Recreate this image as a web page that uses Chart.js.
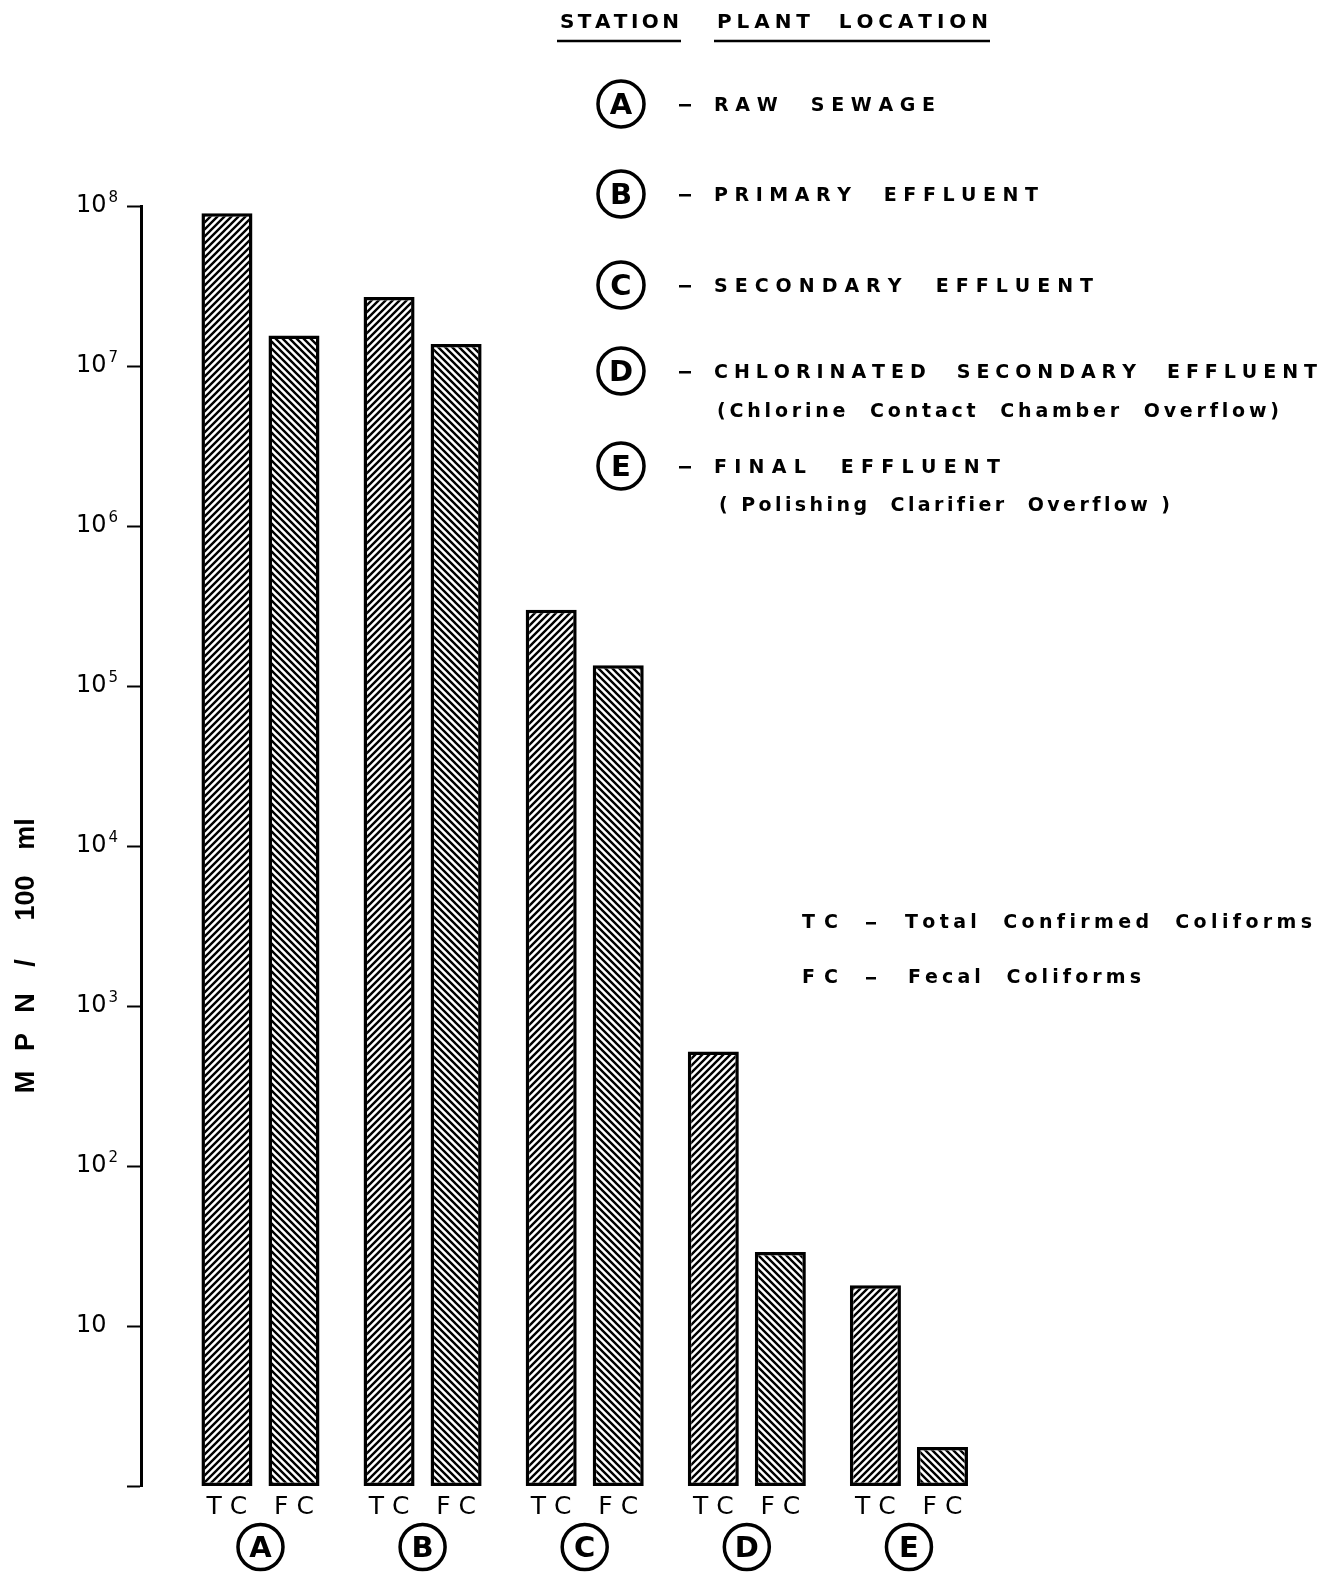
<!DOCTYPE html>
<html>
<head>
<meta charset="utf-8">
<script src="https://cdn.jsdelivr.net/npm/chart.js@4.4.1/dist/chart.umd.min.js"></script>
<style>
  html, body { margin: 0; padding: 0; background: #fff; }
  canvas { display: block; }
</style>
</head>
<body>
<canvas id="mpnChart" width="1329" height="1575"></canvas>
<script>
// station codes and coliform counts (MPN / 100 ml)
const stations = ["A", "B", "C", "D", "E"];
const totalColiforms = [9.0e7, 2.7e7, 3.0e5, 520, 18];
const fecalColiforms = [1.55e7, 1.37e7, 1.35e5, 29, 1.75];
const seriesCodes = ["T C", "F C"];

const tickValues = [1, 10, 1e2, 1e3, 1e4, 1e5, 1e6, 1e7, 1e8];
const tickBases = ["", "10", "10", "10", "10", "10", "10", "10", "10"];
const tickExponents = ["", "", "2", "3", "4", "5", "6", "7", "8"];

const stationNames = [
    "RAW  SEWAGE",
    "PRIMARY  EFFLUENT",
    "SECONDARY  EFFLUENT",
    "CHLORINATED  SECONDARY  EFFLUENT",
    "FINAL  EFFLUENT"
];
const stationNotes = ["", "", "", "(Chlorine  Contact  Chamber  Overflow)", "( Polishing  Clarifier  Overflow )"];
const codeNames = ["Total  Confirmed  Coliforms", "Fecal  Coliforms"];
const axisTitle = ["M", "P", "N", "/", "100", "ml"];

const FONT = "'DejaVu Sans', sans-serif";

// hatch fills: "/" for TC, "\" for FC
function hatch(forward) {
    const s = 7;
    const tile = document.createElement("canvas");
    tile.width = s; tile.height = s;
    const t = tile.getContext("2d");
    t.fillStyle = "#fff";
    t.fillRect(0, 0, s, s);
    t.strokeStyle = "#000";
    t.lineWidth = 2.4;
    t.beginPath();
    if (forward) {
        t.moveTo(-1, s + 1); t.lineTo(s + 1, -1);
        t.moveTo(-1, 1); t.lineTo(1, -1);
        t.moveTo(s - 1, s + 1); t.lineTo(s + 1, s - 1);
    } else {
        t.moveTo(-1, -1); t.lineTo(s + 1, s + 1);
        t.moveTo(s - 1, -1); t.lineTo(s + 1, 1);
        t.moveTo(-1, s - 1); t.lineTo(1, s + 1);
    }
    t.stroke();
    return t.createPattern(tile, "repeat");
}

// draws text spread evenly between x0 and x1
function spread(ctx, text, x0, x1, y) {
    const chars = [...text];
    const widths = chars.map(c => ctx.measureText(c).width);
    const total = widths.reduce((a, b) => a + b, 0);
    const gap = chars.length > 1 ? (x1 - x0 - total) / (chars.length - 1) : 0;
    let x = x0;
    ctx.textAlign = "left";
    chars.forEach((c, i) => {
        ctx.fillText(c, x, y);
        x += widths[i] + gap;
    });
}

function circled(ctx, letter, x, y, r, size) {
    ctx.beginPath();
    ctx.lineWidth = 3.5;
    ctx.arc(x, y, r, 0, Math.PI * 2);
    ctx.stroke();
    ctx.font = "bold " + size + "px " + FONT;
    ctx.textAlign = "center";
    ctx.textBaseline = "middle";
    ctx.fillText(letter, x, y + 2);
}

const annotations = {
    id: "annotations",
    afterDraw(chart) {
        const ctx = chart.ctx;
        ctx.save();
        ctx.fillStyle = "#000";
        ctx.strokeStyle = "#000";
        ctx.textBaseline = "middle";

        // powers of ten next to the y tick labels
        const yScale = chart.scales.y;
        ctx.font = "24px " + FONT;
        const baseWidth = ctx.measureText("10").width;
        ctx.font = "15px " + FONT;
        ctx.textAlign = "left";
        yScale.ticks.forEach((tick, i) => {
            if (!tickExponents[i]) return;
            const y = yScale.getPixelForValue(tick.value);
            ctx.fillText(tickExponents[i], yScale.left + baseWidth + 2, y - 8);
        });

        // bar codes and circled station letters under the bars
        const metaTC = chart.getDatasetMeta(0);
        const metaFC = chart.getDatasetMeta(1);
        ctx.font = "25px " + FONT;
        ctx.textAlign = "center";
        [metaTC, metaFC].forEach((meta, d) => {
            meta.data.forEach(bar => ctx.fillText(seriesCodes[d], bar.x, 1507));
        });
        stations.forEach((s, i) => {
            const cx = (metaTC.data[i].x + metaFC.data[i].x) / 2;
            circled(ctx, s, cx, 1547, 22.5, 29);
        });

        // vertical axis title
        ctx.save();
        ctx.translate(27, 0);
        ctx.rotate(-Math.PI / 2);
        ctx.font = "bold 27px 'Liberation Sans', sans-serif";
        ctx.textAlign = "center";
        ctx.textBaseline = "middle";
        const titleCentres = [1082, 1042, 1003, 963, 898, 834];
        axisTitle.forEach((part, i) => ctx.fillText(part, -titleCentres[i], 0));
        ctx.restore();

        // station key
        ctx.font = "bold 20px " + FONT;
        ctx.textBaseline = "middle";
        spread(ctx, "STATION", 560, 679, 23);
        spread(ctx, "PLANT  LOCATION", 717, 988, 23);
        ctx.lineWidth = 2.5;
        ctx.beginPath();
        ctx.moveTo(557, 41); ctx.lineTo(681, 41);
        ctx.moveTo(714, 41); ctx.lineTo(990, 41);
        ctx.stroke();

        const rows = [
            { y: 105, x1: 935 },
            { y: 195, x1: 1038 },
            { y: 286, x1: 1093 },
            { y: 372, x1: 1317, noteY: 411, noteX0: 717, noteX1: 1279 },
            { y: 467, x1: 1000, noteY: 505, noteX0: 719, noteX1: 1170 }
        ];
        rows.forEach((row, i) => {
            circled(ctx, stations[i], 621, row.y - 1, 23, 29);
            ctx.fillRect(679, row.y - 1, 12, 2.5);
            ctx.font = "bold 19px " + FONT;
            ctx.textBaseline = "middle";
            spread(ctx, stationNames[i], 714, row.x1, row.y + 1);
            if (stationNotes[i]) {
                ctx.font = "bold 19px " + FONT;
                spread(ctx, stationNotes[i], row.noteX0, row.noteX1, row.noteY + 1);
            }
        });

        // series key
        ctx.font = "bold 19px " + FONT;
        ctx.textBaseline = "middle";
        const codeRows = [{ y: 923, x0: 905, x1: 1312 }, { y: 978, x0: 908, x1: 1141 }];
        codeRows.forEach((row, i) => {
            spread(ctx, seriesCodes[i].replace(" ", ""), 802, 838, row.y);
            ctx.fillRect(866, row.y - 1, 10, 2.5);
            spread(ctx, codeNames[i], row.x0, row.x1, row.y);
        });
        ctx.restore();
    }
};

const ctx = document.getElementById("mpnChart").getContext("2d");
new Chart(ctx, {
    type: "bar",
    data: {
        datasets: [
            {
                label: "TC",
                data: totalColiforms.map((v, i) => ({ x: i, y: v })),
                backgroundColor: hatch(true)
            },
            {
                label: "FC",
                data: fecalColiforms.map((v, i) => ({ x: i, y: v })),
                backgroundColor: hatch(false)
            }
        ]
    },
    options: {
        responsive: false,
        animation: false,
        layout: { padding: { left: 76, top: 206, right: 339, bottom: 89 } },
        datasets: {
            bar: {
                borderColor: "#000",
                borderWidth: 3.5,
                borderSkipped: false,
                categoryPercentage: 0.827,
                barPercentage: 0.761,
                clip: false
            }
        },
        plugins: {
            legend: { display: false },
            tooltip: { enabled: false }
        },
        scales: {
            x: {
                type: "linear",
                display: false,
                offset: false,
                min: -0.737,
                max: 4.5,
                afterBuildTicks: axis => {
                    axis.ticks = stations.map((s, i) => ({ value: i }));
                }
            },
            y: {
                type: "logarithmic",
                min: 1,
                max: 1e8,
                afterBuildTicks: axis => {
                    axis.ticks = tickValues.map(v => ({ value: v }));
                },
                afterFit: axis => { axis.width = 65; },
                border: { display: true, color: "#000", width: 3 },
                grid: {
                    drawOnChartArea: false,
                    drawTicks: true,
                    tickLength: 14,
                    tickWidth: 2,
                    tickColor: "#000"
                },
                ticks: {
                    crossAlign: "far",
                    color: "#000",
                    font: { family: FONT, size: 24 },
                    callback: (value, index) => tickBases[index]
                }
            }
        }
    },
    plugins: [annotations]
});
</script>
</body>
</html>
